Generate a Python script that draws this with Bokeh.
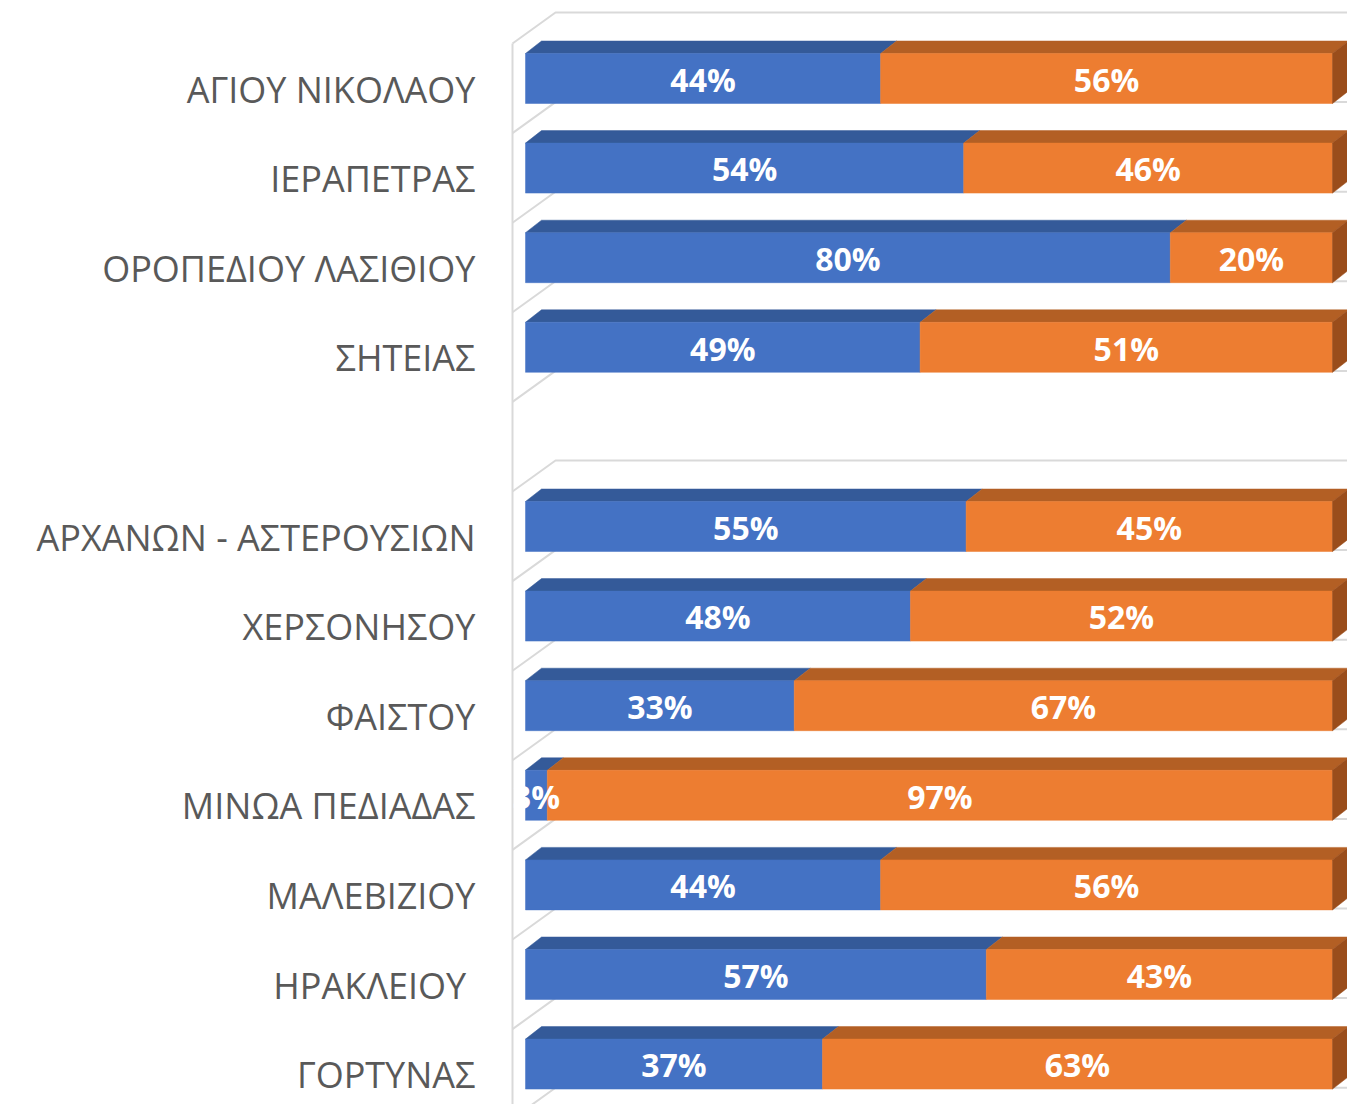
from bokeh.plotting import figure
from bokeh.models import Range1d
from bokeh.core.properties import value
from bokeh.embed import file_html
from bokeh.resources import INLINE

# ---- data ----
categories = ["ΑΓΙΟΥ ΝΙΚΟΛΑΟΥ", "ΙΕΡΑΠΕΤΡΑΣ", "ΟΡΟΠΕΔΙΟΥ ΛΑΣΙΘΙΟΥ", "ΣΗΤΕΙΑΣ", "",
              "ΑΡΧΑΝΩΝ - ΑΣΤΕΡΟΥΣΙΩΝ", "ΧΕΡΣΟΝΗΣΟΥ", "ΦΑΙΣΤΟΥ", "ΜΙΝΩΑ ΠΕΔΙΑΔΑΣ",
              "ΜΑΛΕΒΙΖΙΟΥ", "ΗΡΑΚΛΕΙΟΥ ", "ΓΟΡΤΥΝΑΣ"]
blue_share = [44.0, 54.3, 79.9, 48.9, None, 54.6, 47.7, 33.3, 2.7, 44.0, 57.1, 36.8]
orange_share = [56.0, 45.7, 20.1, 51.1, None, 45.4, 52.3, 66.7, 97.3, 56.0, 42.9, 63.2]

# ---- geometry / style constants (pixels -> data units) ----
W, H = 1347, 1104
PXX = 807.0          # px per 100%
PXY = 89.6           # px per category slot
X0, Y0 = 525.0, 43.0  # canvas px of x=0 and of slot boundary 0
X_START = (0 - X0) / PXX
X_END = (W - X0) / PXX
Y_TOP = (0 - Y0) / PXY
Y_BOT = (H - Y0) / PXY

BAR_TOP = 10 / PXY
BAR_H = 50 / PXY
DDX = 16 / PXX
DDY = 12.5 / PXY
WALL_X = -13 / PXX
WALL_DX = 43 / PXX
WALL_DY = 31 / PXY

BLUE, BLUE_TOP = "#4472C4", "#345A99"
ORANGE, ORANGE_TOP, ORANGE_SIDE = "#ED7D31", "#B35F24", "#9A4D1B"
GRID = "#D9D9D9"

p = figure(width=W, height=H, x_range=Range1d(X_START, X_END),
           y_range=Range1d(Y_BOT, Y_TOP), toolbar_location=None,
           output_backend="svg", min_border=0, outline_line_color=None,
           x_axis_location=None, y_axis_location=None)
p.grid.visible = False

# ---- wall gridlines ----
n = len(categories)
for k in range(n + 1):
    xs = [WALL_X, WALL_X + WALL_DX, X_END + 1]
    ys = [k, k - WALL_DY, k - WALL_DY]
    p.line(xs, ys, line_color=GRID, line_width=2)
p.line([WALL_X, WALL_X], [0, n + 1], line_color=GRID, line_width=2)

# ---- bars ----
fx, fy, fc = [], [], []
tx, ty, tc = [], [], []
sx, sy = [], []
lx, ly, lt = [], [], []
for i, (b, o) in enumerate(zip(blue_share, orange_share)):
    if b is None:
        continue
    t = i + BAR_TOP
    bt = t + BAR_H
    segs = [(0, b / 100, BLUE, BLUE_TOP, b), (b / 100, (b + o) / 100, ORANGE, ORANGE_TOP, o)]
    for x1, x2, cf, ct, v in segs:
        tx.append([x1, x2, x2 + DDX, x1 + DDX]); ty.append([t, t, t - DDY, t - DDY]); tc.append(ct)
        fx.append([x1, x2, x2, x1]); fy.append([t, t, bt, bt]); fc.append(cf)
        lx.append((x1 + x2) / 2); ly.append(t + BAR_H / 2); lt.append(f"{round(v)}%")
    xe = (b + o) / 100
    sx.append([xe, xe + DDX, xe + DDX, xe]); sy.append([t, t - DDY, bt - DDY, bt])

p.patches(tx, ty, fill_color=tc, line_color=tc, line_width=0.5)
p.patches(fx, fy, fill_color=fc, line_color=fc, line_width=0.5)
p.patches(sx, sy, fill_color=ORANGE_SIDE, line_color=ORANGE_SIDE, line_width=0.5)

p.text(x=lx, y=[y + 0.01 for y in ly], text=lt, text_color="white",
       text_font=value("Open Sans"), text_font_style="bold", text_font_size="32px",
       text_align="center", text_baseline="middle")

# ---- category labels ----
cat_x = (475 - X0) / PXX
cy = [i + 0.51 for i, c in enumerate(categories) if c]
ct = [c for c in categories if c]
p.text(x=[cat_x] * len(ct), y=cy, text=ct, text_color="#595959",
       text_font=value("Open Sans"), text_font_size="36px",
       text_align="right", text_baseline="middle")

open("out.html", "w").write(file_html(p, INLINE))
